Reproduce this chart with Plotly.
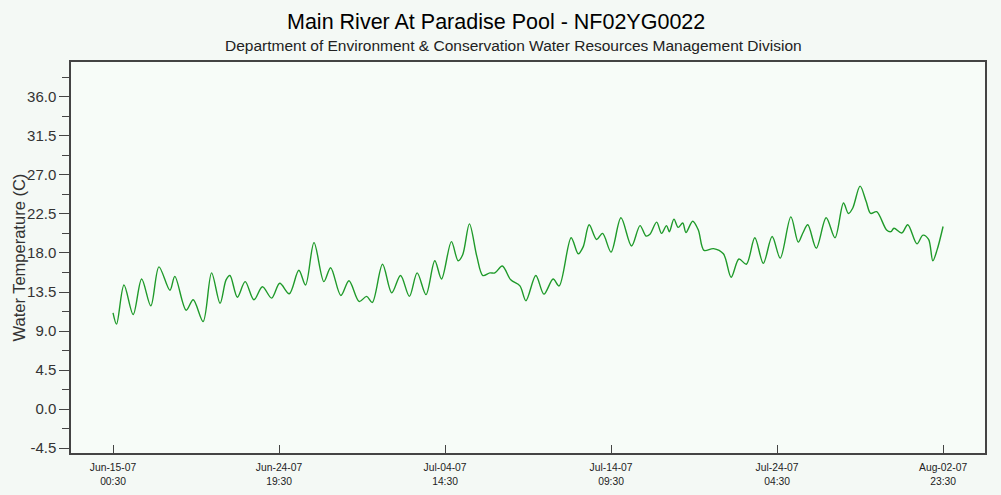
import plotly.graph_objects as go

# Readings at the daily highs/lows of the water temperature record
times = [
    "2007-06-15 00:30", "2007-06-15 05:30", "2007-06-15 16:00", "2007-06-16 05:00",
    "2007-06-16 17:00", "2007-06-17 06:00", "2007-06-17 17:30", "2007-06-18 09:00",
    "2007-06-18 16:00", "2007-06-19 08:00", "2007-06-19 18:00", "2007-06-20 08:00",
    "2007-06-20 20:00", "2007-06-21 08:00", "2007-06-21 16:30", "2007-06-21 22:00",
    "2007-06-22 08:30", "2007-06-22 19:30", "2007-06-23 08:00", "2007-06-23 20:00",
    "2007-06-24 09:00", "2007-06-24 20:30", "2007-06-25 10:00", "2007-06-25 23:30",
    "2007-06-26 09:00", "2007-06-26 21:00", "2007-06-27 11:00", "2007-06-27 20:30",
    "2007-06-28 11:00", "2007-06-28 22:30", "2007-06-29 13:00", "2007-06-29 23:30",
    "2007-06-30 07:30", "2007-06-30 22:00", "2007-07-01 11:00", "2007-07-01 23:30",
    "2007-07-02 12:00", "2007-07-02 23:00", "2007-07-03 11:30", "2007-07-04 00:00",
    "2007-07-04 09:30", "2007-07-04 23:30", "2007-07-05 09:00", "2007-07-05 15:30",
    "2007-07-06 01:00", "2007-07-06 11:30", "2007-07-06 20:00", "2007-07-07 06:00",
    "2007-07-07 13:00", "2007-07-07 23:30", "2007-07-08 11:30", "2007-07-09 00:30",
    "2007-07-09 09:00", "2007-07-09 23:00", "2007-07-10 10:30", "2007-07-10 23:30",
    "2007-07-11 08:00", "2007-07-12 01:00", "2007-07-12 11:00", "2007-07-12 18:00",
    "2007-07-13 02:30", "2007-07-13 13:00", "2007-07-13 21:30", "2007-07-14 09:30",
    "2007-07-14 23:30", "2007-07-15 14:30", "2007-07-16 02:30", "2007-07-16 11:00",
    "2007-07-16 16:30", "2007-07-17 02:00", "2007-07-17 09:00", "2007-07-17 16:00",
    "2007-07-17 20:00", "2007-07-18 02:30", "2007-07-18 08:30", "2007-07-18 15:00",
    "2007-07-18 19:30", "2007-07-19 05:00", "2007-07-19 13:00", "2007-07-19 21:00",
    "2007-07-20 10:30", "2007-07-21 00:30", "2007-07-21 11:30", "2007-07-21 22:30",
    "2007-07-22 09:00", "2007-07-22 21:00", "2007-07-23 09:00", "2007-07-23 21:30",
    "2007-07-24 09:00", "2007-07-25 00:00", "2007-07-25 10:30", "2007-07-25 17:00",
    "2007-07-26 00:00", "2007-07-26 12:00", "2007-07-27 02:00", "2007-07-27 14:30",
    "2007-07-28 02:30", "2007-07-28 09:30", "2007-07-28 15:30", "2007-07-29 02:00",
    "2007-07-29 10:30", "2007-07-29 17:00", "2007-07-30 01:30", "2007-07-30 15:30",
    "2007-07-30 21:30", "2007-07-31 02:00", "2007-07-31 13:00", "2007-07-31 21:30",
    "2007-08-01 10:30", "2007-08-01 19:00", "2007-08-02 03:00", "2007-08-02 09:00",
    "2007-08-02 15:00", "2007-08-02 23:30",
]
temps = [
    11.1, 9.8, 14.3, 10.9,
    15.0, 11.9, 16.4, 13.7,
    15.3, 11.4, 12.6, 10.1,
    15.7, 12.2, 14.9, 15.4,
    12.9, 14.7, 12.6, 14.1,
    12.8, 14.5, 13.3, 16.0,
    14.3, 19.2, 14.7, 16.3,
    13.1, 14.8, 12.4, 13.0,
    12.3, 16.7, 13.4, 15.4,
    13.0, 15.7, 13.2, 17.1,
    15.0, 19.3, 17.1, 17.8,
    21.35, 17.6, 15.4, 15.7,
    15.7, 16.5, 14.9, 14.2,
    12.5, 15.4, 13.25, 15.0,
    14.2, 19.75, 17.9, 18.7,
    21.25, 19.55, 20.25, 18.1,
    22.05, 18.8, 21.15, 19.95,
    20.15, 21.55, 20.25, 21.15,
    20.45, 21.9, 20.95, 21.45,
    20.35, 21.65, 20.65, 18.3,
    18.5, 17.9, 15.2, 17.3,
    16.7, 19.75, 16.8, 19.9,
    17.4, 22.15, 19.25, 20.3,
    21.25, 18.55, 22.05, 19.75,
    23.75, 22.55, 23.15, 25.7,
    23.95, 22.55, 22.75, 20.65,
    20.45, 20.85, 20.3, 21.25,
    19.05, 20.05, 19.55, 17.1,
    18.35, 21.05,
]

x_tick_vals = ["2007-06-15 00:30", "2007-06-24 19:30", "2007-07-04 14:30",
               "2007-07-14 09:30", "2007-07-24 04:30", "2007-08-02 23:30"]
x_tick_text = ["Jun-15-07<br>00:30", "Jun-24-07<br>19:30", "Jul-04-07<br>14:30",
               "Jul-14-07<br>09:30", "Jul-24-07<br>04:30", "Aug-02-07<br>23:30"]
y_tick_vals = [-4.5, 0.0, 4.5, 9.0, 13.5, 18.0, 22.5, 27.0, 31.5, 36.0]
y_tick_text = ["-4.5", "0.0", "4.5", "9.0", "13.5", "18.0", "22.5", "27.0", "31.5", "36.0"]

fig = go.Figure()
fig.add_trace(go.Scatter(
    x=times, y=temps, mode="lines",
    line=dict(color="#1f9a2a", width=1.4, shape="spline", smoothing=0.9),
    hoverinfo="x+y", showlegend=False,
))

axis_font = dict(family="Liberation Sans, Arial, sans-serif")

fig.update_layout(
    width=1001, height=495,
    margin=dict(l=71, r=16, t=62, b=42),
    paper_bgcolor="#f4f9f5",
    plot_bgcolor="#f7fcf8",
    font=dict(family="Liberation Sans, Arial, sans-serif", color="#222222"),
    xaxis=dict(
        type="date",
        range=["2007-06-12 13:00", "2007-08-05 10:50"],
        tickvals=x_tick_vals, ticktext=x_tick_text,
        ticks="inside", ticklen=8, tickcolor="#444444", tickwidth=1,
        ticklabelstandoff=4,
        automargin=False,
        showgrid=False, zeroline=False,
        showline=True, linecolor="#444444", linewidth=1.5, mirror=True,
        tickfont=dict(size=10.3, color="#222222", **axis_font),
    ),
    yaxis=dict(
        range=[-5.05, 40.0],
        tickvals=y_tick_vals, ticktext=y_tick_text,
        ticks="outside", ticklen=10, tickcolor="#444444", tickwidth=1,
        minor=dict(ticks="outside", ticklen=7, tickcolor="#444444",
                   tick0=-2.25, dtick=2.25),
        automargin=False,
        showgrid=False, zeroline=False,
        showline=True, linecolor="#444444", linewidth=1.5, mirror=True,
        tickfont=dict(size=15, color="#333333", **axis_font),
    ),
    annotations=[
        dict(text="Main River At Paradise Pool - NF02YG0022",
             xref="paper", yref="paper", x=(496 - 71) / 914, y=1 + (62 - 22) / 391,
             xanchor="center", yanchor="middle", showarrow=False,
             font=dict(size=21.5, color="#000000")),
        dict(text="Department of Environment & Conservation Water Resources Management Division",
             xref="paper", yref="paper", x=(513 - 71) / 914, y=1 + (62 - 46) / 391,
             xanchor="center", yanchor="middle", showarrow=False,
             font=dict(size=15.5, color="#222222")),
        dict(text="Water Temperature (C)",
             xref="paper", yref="paper", x=(18 - 71) / 914, y=0.5,
             xanchor="center", yanchor="middle", textangle=-90, showarrow=False,
             font=dict(size=16.5, color="#333333")),
    ],
)

fig.write_html("out.html")
